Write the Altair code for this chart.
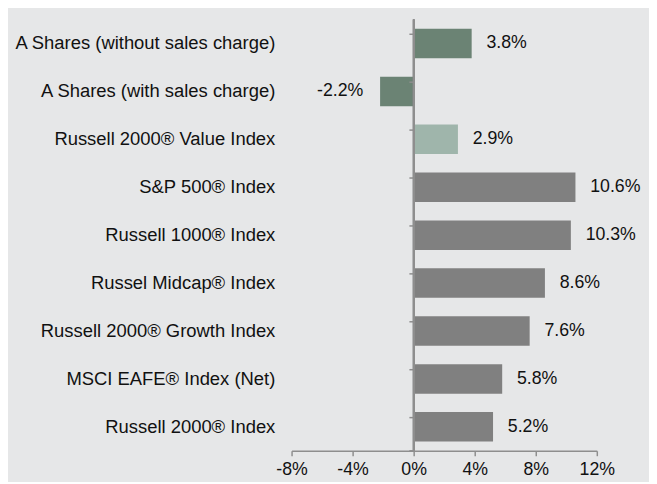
import altair as alt
import pandas as pd

categories = [
    "A Shares (without sales charge)",
    "A Shares (with sales charge)",
    "Russell 2000® Value Index",
    "S&P 500® Index",
    "Russell 1000® Index",
    "Russel Midcap® Index",
    "Russell 2000® Growth Index",
    "MSCI EAFE® Index (Net)",
    "Russell 2000® Index",
]
values = [3.8, -2.2, 2.9, 10.6, 10.3, 8.6, 7.6, 5.8, 5.2]
groups = ["fund", "fund", "primary", "other", "other", "other", "other", "other", "other"]
value_labels = ["3.8%", "-2.2%", "2.9%", "10.6%", "10.3%", "8.6%", "7.6%", "5.8%", "5.2%"]
x_ticks = [-8, -4, 0, 4, 8, 12]

df = pd.DataFrame({"cat": categories, "val": values, "grp": groups, "lab": value_labels})

FONT = "Liberation Sans"
W, H = 310, 438
AXIS_GRAY = "#8e8e8e"
TXT = "#111111"

yenc = alt.Y(
    "cat:N",
    sort=categories,
    scale=alt.Scale(paddingInner=0.384, paddingOuter=0.192),
    axis=alt.Axis(
        title=None, domain=False, ticks=False, labelPadding=17,
        labelFont=FONT, labelFontSize=18.7, labelColor=TXT, labelLimit=400,
    ),
)
xscale = alt.Scale(domain=[-8, 12], nice=False, zero=False)

bars = alt.Chart(df).mark_bar().encode(
    y=yenc,
    x=alt.X(
        "val:Q",
        scale=xscale,
        axis=alt.Axis(
            title=None, values=x_ticks, labelExpr="datum.value + '%'", grid=False,
            domainColor=AXIS_GRAY, domainWidth=1.5, tickColor=AXIS_GRAY, tickWidth=1.5,
            tickSize=5, labelFont=FONT, labelFontSize=18, labelColor=TXT,
            labelPadding=5, labelFlush=False, labelOverlap=False,
        ),
    ),
    color=alt.Color(
        "grp:N",
        scale=alt.Scale(domain=["fund", "primary", "other"], range=["#6b8374", "#9fb5ab", "#808080"]),
        legend=None,
    ),
)

pos_text = alt.Chart(df).transform_filter("datum.val >= 0").mark_text(
    align="left", baseline="middle", dx=15, font=FONT, fontSize=18, color=TXT
).encode(y=alt.Y("cat:N", sort=categories), x=alt.X("val:Q", scale=xscale), text="lab:N")

neg_text = alt.Chart(df).transform_filter("datum.val < 0").mark_text(
    align="right", baseline="middle", dx=-17, font=FONT, fontSize=18, color=TXT
).encode(y=alt.Y("cat:N", sort=categories), x=alt.X("val:Q", scale=xscale), text="lab:N")

zero_line = alt.Chart(df).mark_rule(color=AXIS_GRAY, strokeWidth=1.5).encode(
    x=alt.datum(0)
)

ticks = alt.Chart(df).mark_rule(color=AXIS_GRAY, strokeWidth=1.5, yOffset=-9.35).encode(
    y=alt.Y("cat:N", sort=categories), x=alt.datum(0), x2=alt.datum(-0.28)
)
bottom_tick = alt.Chart(df.head(1)).mark_rule(color=AXIS_GRAY, strokeWidth=1.5).encode(
    y=alt.value(H), x=alt.datum(0), x2=alt.datum(-0.28)
)

chart = alt.layer(bars, zero_line, ticks, bottom_tick, pos_text, neg_text).properties(
    width=W, height=H,
    background="#e6e7e8",
    padding={"left": 6, "top": 7, "right": 8, "bottom": 0},
).configure_view(stroke=None)

chart.save("out.html", embed_options={"renderer": "svg", "actions": False})
